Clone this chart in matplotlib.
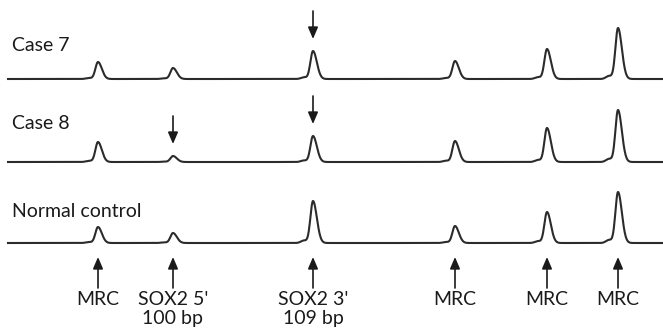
import numpy as np
import matplotlib.pyplot as plt

# peak positions along the trace (same for all three samples)
peak_pos = [98, 173, 313, 455, 547, 618]
peak_names = ["MRC", "SOX2 5'\n100 bp", "SOX2 3'\n109 bp", "MRC", "MRC", "MRC"]

# sample labels and peak heights
samples = ["Case 7", "Case 8", "Normal control"]
heights_case7 = [17, 11, 28, 18, 30, 51]
heights_case8 = [20, 6, 26, 21, 34, 52]
heights_normal = [16, 10, 42, 17, 31, 51]
heights = [heights_case7, heights_case8, heights_normal]

# peaks marked with a downward arrow (sample index, peak index)
marked = [(0, 2), (1, 1), (1, 2)]

# layout
baselines = [79, 162, 243]
label_y = [51, 129, 217]
x_start, x_end = 8, 663


def peak(x, mu, h, sl=2.6, sr=3.8):
    s = np.where(x < mu, sl, sr)
    return h * np.exp(-0.5 * ((x - mu) / s) ** 2)


fig = plt.figure(figsize=(6.63, 3.33), dpi=100)
ax = fig.add_axes([0, 0, 1, 1])
ax.set_xlim(0, 663)
ax.set_ylim(333, 0)
ax.axis("off")

font = dict(family=["Lato", "DejaVu Sans"], color="#1a1a1a")
x = np.linspace(x_start, x_end, 2000)

for i, name in enumerate(samples):
    y = np.zeros_like(x)
    for p, h in zip(peak_pos, heights[i]):
        y += peak(x, p, h)
        # small shoulder before each peak
        y += peak(x, p - 9, h * 0.06, 3, 3)
    ax.plot(x, baselines[i] - y, color="#2b2b2b", lw=1.5)
    ax.text(12, label_y[i], name, fontsize=14, va="baseline", ha="left", **font)

arrow = dict(arrowstyle="-|>,head_length=0.7,head_width=0.3", color="#1a1a1a", lw=1.2,
             shrinkA=0, shrinkB=0)
for i, j in marked:
    tip = baselines[i] - heights[i][j] - 12
    ax.annotate("", xy=(peak_pos[j], tip), xytext=(peak_pos[j], tip - 28), arrowprops=arrow)

for p, lab in zip(peak_pos, peak_names):
    ax.annotate("", xy=(p, 257), xytext=(p, 288), arrowprops=arrow)
    ax.text(p, 291, lab, fontsize=14, ha="center", va="top", linespacing=1.15, **font)

fig.savefig("out.png", dpi=100)
